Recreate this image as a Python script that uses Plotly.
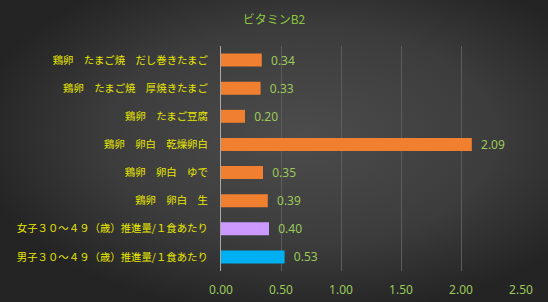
import plotly.graph_objects as go
import base64

categories = [
    "鶏卵　たまご焼　だし巻きたまご",
    "鶏卵　たまご焼　厚焼きたまご",
    "鶏卵　たまご豆腐",
    "鶏卵　卵白　乾燥卵白",
    "鶏卵　卵白　ゆで",
    "鶏卵　卵白　生",
    "女子３０～４９（歳）推進量/１食あたり",
    "男子３０～４９（歳）推進量/１食あたり",
]
values = [0.34, 0.33, 0.20, 2.09, 0.35, 0.39, 0.40, 0.53]
bar_colors = ["#F07F30"] * 6 + ["#CC99FF", "#00B0F0"]
tick_vals = [0, 0.5, 1.0, 1.5, 2.0, 2.5]
tick_text = ["0.00", "0.50", "1.00", "1.50", "2.00", "2.50"]
title = "ビタミンB2"

W, H = 548, 302
L, R, T, B = 221, 27, 46, 31
pw, ph = W - L - R, H - T - B

svg = (
    f'<svg xmlns="http://www.w3.org/2000/svg" width="{W}" height="{H}">'
    '<defs><radialGradient id="g" cx="0.55" cy="0.45" r="0.6">'
    '<stop offset="0" stop-color="#4c4c4c"/>'
    '<stop offset="0.6" stop-color="#3c3c3c"/>'
    '<stop offset="1" stop-color="#242424"/>'
    '</radialGradient></defs>'
    f'<rect width="{W}" height="{H}" fill="url(#g)"/></svg>'
)
src = "data:image/svg+xml;base64," + base64.b64encode(svg.encode()).decode()

fig = go.Figure()
fig.add_trace(go.Bar(
    y=categories, x=values, orientation="h",
    marker=dict(color=bar_colors, line=dict(width=0)),
    width=0.46,
    text=["\u00a0\u00a0" + f"{v:.2f}" for v in values], textposition="outside",
    constraintext="none",
    textfont=dict(color="#9BC95A", size=12, family="Noto Sans, sans-serif"),
    cliponaxis=False,
))
fig.update_layout(
    width=W, height=H,
    margin=dict(l=L, r=R, t=T, b=B, autoexpand=False),
    paper_bgcolor="#333333", plot_bgcolor="rgba(0,0,0,0)",
    showlegend=False,
    title=dict(text=title, x=0.5, xref="container", xanchor="center",
               y=1 - 20 / H, yanchor="middle",
               font=dict(color="#8CC63F", size=12, family="Noto Sans CJK JP")),
    images=[dict(source=src, xref="paper", yref="paper",
                 x=-L / pw, y=1 + T / ph, sizex=W / pw, sizey=H / ph,
                 xanchor="left", yanchor="top", sizing="stretch", layer="below")],
    xaxis=dict(range=[0, 2.5], tickvals=tick_vals, ticktext=tick_text,
               automargin=False,
               showgrid=True, gridcolor="#5c5c5c", gridwidth=1,
               zeroline=False, showline=False,
               ticks="outside", ticklen=8, tickcolor="rgba(0,0,0,0)",
               tickfont=dict(color="#9BC95A", size=12, family="Noto Sans, sans-serif")),
    yaxis=dict(autorange="reversed", automargin=False,
               showgrid=False, showline=True,
               linecolor="#a8a8a8", linewidth=1,
               ticks="outside", ticklen=10, tickcolor="rgba(0,0,0,0)",
               tickfont=dict(color="#E8E800", size=10.4, family="Noto Sans CJK JP")),
)
fig.write_html("out.html")
